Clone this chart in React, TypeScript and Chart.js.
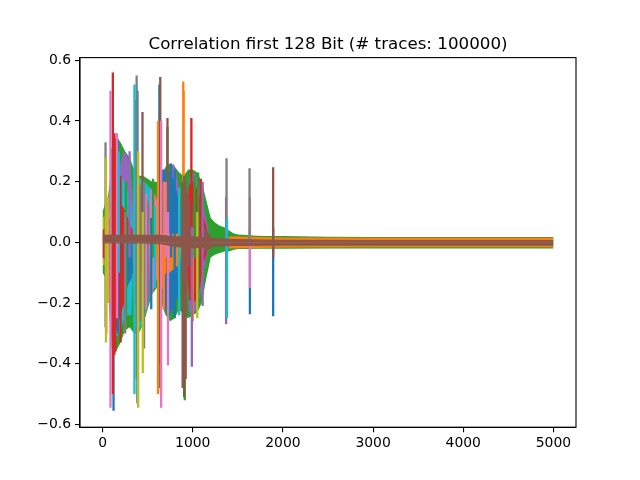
import React, { useEffect, useRef } from 'react';
import { Chart, registerables } from 'chart.js';

Chart.register(...registerables);

// --- data (sample index, correlation) ---
const X_TICKS = [0, 1000, 2000, 3000, 4000, 5000];
const Y_TICKS = [-0.6, -0.4, -0.2, 0.0, 0.2, 0.4, 0.6];

// outer envelope of all traces
const OUTER_X = [0, 20, 40, 60, 80, 100, 150, 200, 250, 300, 350, 400, 450, 500, 550, 600, 650, 700, 750, 800, 850, 900, 950, 1000, 1050, 1100, 1150, 1200, 1250, 1300, 1350, 1400, 1450, 1500, 1600, 1700, 1800, 1900, 2000, 2500, 3000, 3500, 4000, 4500, 5000];
const OUTER_HI = [0.10, 0.12, 0.14, 0.15, 0.20, 0.30, 0.35, 0.33, 0.30, 0.28, 0.24, 0.22, 0.22, 0.21, 0.20, 0.20, 0.22, 0.25, 0.26, 0.25, 0.23, 0.22, 0.24, 0.24, 0.23, 0.20, 0.14, 0.08, 0.065, 0.055, 0.05, 0.04, 0.03, 0.026, 0.024, 0.022, 0.021, 0.021, 0.021, 0.019, 0.018, 0.018, 0.018, 0.018, 0.018];
const OUTER_LO = [-0.10, -0.11, -0.12, -0.15, -0.25, -0.35, -0.36, -0.33, -0.29, -0.28, -0.30, -0.30, -0.27, -0.22, -0.17, -0.15, -0.20, -0.24, -0.26, -0.25, -0.22, -0.24, -0.25, -0.24, -0.23, -0.20, -0.12, -0.05, -0.04, -0.035, -0.03, -0.03, -0.025, -0.022, -0.022, -0.021, -0.021, -0.021, -0.021, -0.02, -0.02, -0.02, -0.02, -0.02, -0.02];

const OLIVE_X = [0, 30, 60, 90, 110];
const OLIVE_HI = [0.08, 0.09, 0.11, 0.10, 0];
const OLIVE_LO = [-0.07, -0.08, -0.10, -0.10, 0];

const PURPLE_X = [150, 190, 230, 270, 310, 340, 360, 740, 760, 790, 820, 850, 870, 930, 960, 1000, 1040, 1080, 1120, 1160, 1200];
const PURPLE_HI = [0, 0.25, 0.30, 0.29, 0.24, 0.12, 0, 0, 0.24, 0.26, 0.23, 0.17, 0, 0, 0.21, 0.23, 0.22, 0.18, 0.12, 0.06, 0];
const PURPLE_LO = [0, -0.02, -0.03, -0.03, -0.02, -0.01, 0, 0, -0.02, -0.02, -0.02, -0.01, 0, 0, -0.23, -0.23, -0.22, -0.18, -0.10, -0.04, 0];

const CYAN_A_X = [90, 120, 160, 200, 240, 280, 320, 350];
const CYAN_A_HI = [0, 0.22, 0.24, 0.22, 0.20, 0.17, 0.13, 0];
const CYAN_A_LO = [0, -0.30, -0.31, -0.29, -0.25, -0.24, -0.24, 0];

const RED_X = [0, 40, 80, 100, 130, 160, 200, 240, 280, 320, 350, 360, 920, 930, 960, 1000, 1040, 1080, 1120, 1160, 1180];
const RED_HI = [0.04, 0.05, 0.08, 0.14, 0.16, 0.15, 0.13, 0.11, 0.08, 0.05, 0.03, 0, 0, 0.08, 0.19, 0.20, 0.18, 0.15, 0.09, 0.04, 0];
const RED_LO = [-0.05, -0.06, -0.15, -0.31, -0.32, -0.28, -0.24, -0.20, -0.14, -0.08, -0.05, 0, 0, -0.06, -0.19, -0.20, -0.19, -0.15, -0.07, -0.03, 0];

const BLUE_A_X = [230, 250, 280, 320, 350, 360];
const BLUE_A_HI = [0, 0.02, 0.02, 0.02, 0.01, 0];
const BLUE_A_LO = [0, -0.13, -0.14, -0.12, -0.08, 0];

const CYAN_X = [330, 350, 380, 420, 460, 500, 540, 580, 610, 630];
const CYAN_HI = [0, 0.20, 0.22, 0.21, 0.20, 0.19, 0.17, 0.14, 0.10, 0];
const CYAN_LO = [0, -0.26, -0.29, -0.28, -0.25, -0.21, -0.16, -0.13, -0.10, 0];

const GRAY_X = [330, 350, 380, 420, 460, 500, 530, 545];
const GRAY_HI = [0, 0.17, 0.20, 0.19, 0.17, 0.14, 0.10, 0];
const GRAY_LO = [0, -0.22, -0.27, -0.26, -0.24, -0.20, -0.17, 0];

const PINK_X = [515, 530, 560, 590, 620, 640];
const PINK_HI = [0, 0.18, 0.17, 0.15, 0.12, 0];
const PINK_LO = [0, -0.19, -0.16, -0.13, -0.11, 0];

const BLUE_X = [630, 660, 700, 740, 780, 820, 860, 880];
const BLUE_HI = [0, 0.24, 0.24, 0.23, 0.21, 0.17, 0.13, 0];
const BLUE_LO = [0, -0.18, -0.22, -0.24, -0.22, -0.19, -0.17, 0];

const ORANGE_X = [590, 620, 660, 700, 740, 780, 820, 860, 880];
const ORANGE_HI = [0, 0.02, 0.03, 0.03, 0.03, 0.03, 0.03, 0.02, 0];
const ORANGE_LO = [0, -0.18, -0.16, -0.10, -0.10, -0.09, -0.08, -0.07, 0];

const BROWN_MID_X = [920, 950, 1000, 1050, 1100, 1150, 1200];
const BROWN_MID_HI = [0.20, 0.15, 0.13, 0.10, 0.07, 0.04, 0.02];
const BROWN_MID_LO = [-0.20, -0.08, -0.06, -0.05, -0.04, -0.03, -0.02];

const TAIL_X = [1400, 2000, 3000, 4000, 5000];
const TAIL_HI = [0.02, 0.016, 0.015, 0.015, 0.015];
const TAIL_LO = [-0.02, -0.017, -0.016, -0.016, -0.016];

const CENTER_X = [0, 400, 650, 800, 1000, 1200, 1400, 1600, 2000, 3000, 4000, 5000];
const CENTER_HI = [0.025, 0.025, 0.025, 0.02, 0.02, 0.015, 0.012, 0.01, 0.009, 0.008, 0.008, 0.008];
const CENTER_LO = [-0.004, -0.004, -0.006, -0.015, -0.02, -0.015, -0.012, -0.012, -0.011, -0.011, -0.011, -0.011];

// narrow peaks: position, top, bottom
const BLUE_SPIKE_X = [122, 150, 170, 387, 540, 630, 760, 800, 1634, 1892];
const BLUE_SPIKE_HI = [0.10, 0.30, 0.34, 0.50, 0.08, 0.52, 0.26, 0.24, 0.05, 0.05];
const BLUE_SPIKE_LO = [-0.555, -0.12, -0.30, -0.53, -0.22, -0.40, -0.05, -0.25, -0.237, -0.243];

const ORANGE_SPIKE_X = [42, 615, 680, 895, 900, 1000];
const ORANGE_SPIKE_HI = [0.05, 0.40, 0.20, 0.53, 0.50, 0.05];
const ORANGE_SPIKE_LO = [-0.30, -0.50, -0.22, -0.20, -0.10, -0.26];

const GREEN_SPIKE_X = [100, 260, 560, 720, 912, 1020, 1060];
const GREEN_SPIKE_HI = [0.31, 0.20, 0.21, 0.38, 0.10, 0.22, 0.23];
const GREEN_SPIKE_LO = [-0.10, -0.28, -0.05, -0.05, -0.52, -0.05, -0.22];

const RED_SPIKE_X = [114, 132, 140, 200, 372, 985, 1090];
const RED_SPIKE_HI = [0.56, 0.36, 0.33, 0.22, 0.47, 0.41, 0.21];
const RED_SPIKE_LO = [-0.50, -0.37, -0.36, -0.33, -0.20, -0.10, -0.06];

const PURPLE_SPIKE_X = [300, 990, 1110, 1370];
const PURPLE_SPIKE_HI = [0.30, 0.05, 0.20, 0.15];
const PURPLE_SPIKE_LO = [-0.05, -0.41, -0.21, -0.27];

const BROWN_SPIKE_X = [443, 640, 720, 888, 905, 922, 1892];
const BROWN_SPIKE_HI = [0.43, 0.545, 0.41, 0.20, 0.22, 0.18, 0.248];
const BROWN_SPIKE_LO = [-0.10, -0.48, -0.10, -0.48, -0.51, -0.45, -0.05];

const PINK_SPIKE_X = [88, 160, 480, 650, 700, 726, 1634];
const PINK_SPIKE_HI = [0.50, 0.36, 0.16, 0.40, 0.20, 0.10, 0.15];
const PINK_SPIKE_LO = [-0.545, -0.25, -0.22, -0.545, -0.05, -0.405, -0.15];

const GRAY_SPIKE_X = [33, 250, 378, 460, 1375, 1630];
const GRAY_SPIKE_HI = [0.33, 0.10, 0.55, 0.20, 0.277, 0.244];
const GRAY_SPIKE_LO = [-0.28, -0.30, -0.45, -0.35, -0.10, 0.0];

const OLIVE_SPIKE_X = [38, 60, 395, 446, 1050];
const OLIVE_SPIKE_HI = [0.28, 0.15, 0.30, 0.10, 0.10];
const OLIVE_SPIKE_LO = [-0.33, -0.20, -0.545, -0.43, -0.25];

const CYAN_SPIKE_X = [180, 354, 580, 850, 1380];
const CYAN_SPIKE_HI = [0.30, 0.52, 0.12, 0.18, 0.08];
const CYAN_SPIKE_LO = [-0.10, -0.50, -0.15, -0.24, -0.25];

const C = {
  blue: '#1f77b4', orange: '#ff7f0e', green: '#2ca02c', red: '#d62728', purple: '#9467bd',
  brown: '#8c564b', pink: '#e377c2', gray: '#7f7f7f', olive: '#bcbd22', cyan: '#17becf',
};

const FONT = '"DejaVu Sans", sans-serif';

function band(color: string, xs: number[], hi: number[], lo: number[]) {
  const mk = (ys: number[]) => ({
    data: xs.map((x, i) => ({ x, y: ys[i] })),
    fill: 'origin',
    backgroundColor: color,
    borderColor: 'transparent',
    borderWidth: 0,
    pointRadius: 0,
  });
  return [mk(hi), mk(lo)];
}

function spikes(color: string, xs: number[], hi: number[], lo: number[]) {
  const data: { x: number; y: number | null }[] = [];
  xs.forEach((x, i) => {
    data.push({ x, y: hi[i] }, { x, y: lo[i] }, { x, y: null });
  });
  return [{ data, fill: false, borderColor: color, borderWidth: 2.3, pointRadius: 0, spanGaps: false }];
}

const framePlugin = {
  id: 'frame',
  afterDraw(chart: any) {
    const { ctx, chartArea: a } = chart;
    ctx.save();
    ctx.strokeStyle = '#000';
    ctx.lineWidth = 1.1;
    ctx.strokeRect(a.left, a.top, a.right - a.left, a.bottom - a.top);
    ctx.fillStyle = '#000';
    ctx.font = `16.7px ${FONT}`;
    ctx.textAlign = 'center';
    ctx.textBaseline = 'alphabetic';
    ctx.fillText('Correlation first 128 Bit (# traces: 100000)', (a.left + a.right) / 2, a.top - 8.3);
    ctx.restore();
  },
};

export default function App() {
  const canvasRef = useRef<HTMLCanvasElement>(null);

  useEffect(() => {
    const ctx = canvasRef.current?.getContext('2d');
    if (!ctx) return;

    const layers = [
      ...band(C.green, OUTER_X, OUTER_HI, OUTER_LO),
      ...band(C.olive, OLIVE_X, OLIVE_HI, OLIVE_LO),
      ...band(C.purple, PURPLE_X, PURPLE_HI, PURPLE_LO),
      ...band(C.cyan, CYAN_A_X, CYAN_A_HI, CYAN_A_LO),
      ...band(C.red, RED_X, RED_HI, RED_LO),
      ...band(C.blue, BLUE_A_X, BLUE_A_HI, BLUE_A_LO),
      ...band(C.cyan, CYAN_X, CYAN_HI, CYAN_LO),
      ...band(C.gray, GRAY_X, GRAY_HI, GRAY_LO),
      ...band(C.pink, PINK_X, PINK_HI, PINK_LO),
      ...band(C.blue, BLUE_X, BLUE_HI, BLUE_LO),
      ...band(C.orange, ORANGE_X, ORANGE_HI, ORANGE_LO),
      ...band(C.brown, BROWN_MID_X, BROWN_MID_HI, BROWN_MID_LO),
      ...band(C.orange, TAIL_X, TAIL_HI, TAIL_LO),
      ...spikes(C.blue, BLUE_SPIKE_X, BLUE_SPIKE_HI, BLUE_SPIKE_LO),
      ...spikes(C.orange, ORANGE_SPIKE_X, ORANGE_SPIKE_HI, ORANGE_SPIKE_LO),
      ...spikes(C.green, GREEN_SPIKE_X, GREEN_SPIKE_HI, GREEN_SPIKE_LO),
      ...spikes(C.red, RED_SPIKE_X, RED_SPIKE_HI, RED_SPIKE_LO),
      ...spikes(C.purple, PURPLE_SPIKE_X, PURPLE_SPIKE_HI, PURPLE_SPIKE_LO),
      ...spikes(C.brown, BROWN_SPIKE_X, BROWN_SPIKE_HI, BROWN_SPIKE_LO),
      ...spikes(C.pink, PINK_SPIKE_X, PINK_SPIKE_HI, PINK_SPIKE_LO),
      ...spikes(C.gray, GRAY_SPIKE_X, GRAY_SPIKE_HI, GRAY_SPIKE_LO),
      ...spikes(C.olive, OLIVE_SPIKE_X, OLIVE_SPIKE_HI, OLIVE_SPIKE_LO),
      ...spikes(C.cyan, CYAN_SPIKE_X, CYAN_SPIKE_HI, CYAN_SPIKE_LO),
      ...band(C.brown, CENTER_X, CENTER_HI, CENTER_LO),
    ];
    // first layer painted first, last layer ends on top
    const datasets = layers.map((d, i) => ({ ...d, order: -i }));

    const chart = new Chart(ctx, {
      type: 'line',
      data: { datasets: datasets as any },
      options: {
        animation: false,
        responsive: false,
        devicePixelRatio: 1,
        layout: { padding: { left: 0, right: 64, top: 57.6, bottom: 0 } },
        plugins: { legend: { display: false }, tooltip: { enabled: false }, title: { display: false } },
        elements: { line: { tension: 0 } },
        scales: {
          x: {
            type: 'linear',
            min: -250,
            max: 5250,
            afterBuildTicks: (s: any) => { s.ticks = X_TICKS.map((v) => ({ value: v })); },
            afterFit: (s: any) => { s.height = 52.8; },
            grid: { drawOnChartArea: false, drawTicks: true, tickLength: 5, color: '#000', lineWidth: 1.1 },
            border: { display: true, color: '#000', width: 1.1 },
            ticks: { color: '#000', font: { family: FONT, size: 13.9 }, padding: 3, maxRotation: 0, callback: (v: any) => String(v) },
          },
          y: {
            type: 'linear',
            min: -0.609,
            max: 0.609,
            afterBuildTicks: (s: any) => { s.ticks = Y_TICKS.map((v) => ({ value: v })); },
            afterFit: (s: any) => { s.width = 80; },
            grid: { drawOnChartArea: false, drawTicks: true, tickLength: 5, color: '#000', lineWidth: 1.1 },
            border: { display: true, color: '#000', width: 1.1 },
            ticks: { color: '#000', font: { family: FONT, size: 13.9 }, padding: 4, callback: (v: any) => Number(v).toFixed(1).replace('-', '\u2212') },
          },
        },
      },
      plugins: [framePlugin],
    });

    return () => chart.destroy();
  }, []);

  return (
    <div style={{ position: 'fixed', left: 0, top: 0, width: 640, height: 480, background: '#fff' }}>
      <canvas ref={canvasRef} width={640} height={480} />
    </div>
  );
}
